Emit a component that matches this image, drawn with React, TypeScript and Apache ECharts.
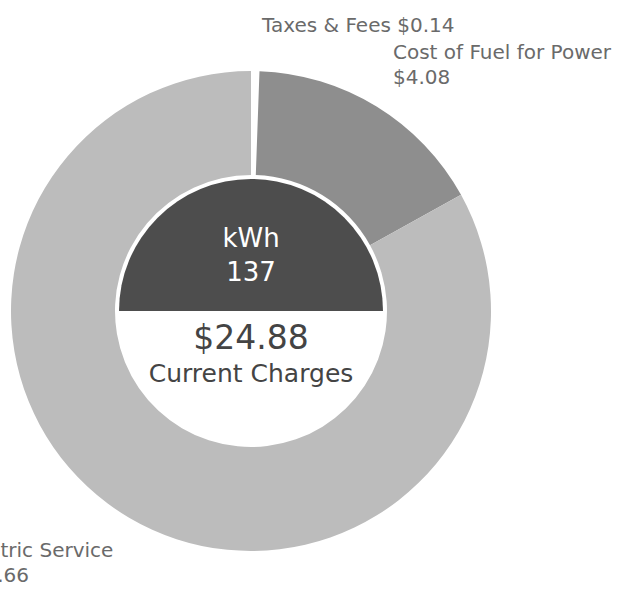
import React, { useEffect, useRef } from "react";
import * as echarts from "echarts";

const categories = ["Taxes & Fees", "Cost of Fuel for Power", "Electric Service"];
const amounts = [0.14, 4.08, 20.66];
const sliceColors = ["#ffffff", "#8e8e8e", "#bcbcbc"];
const usageLabel = "kWh";
const usageValue = 137;
const totalCharges = 24.88;
const totalLabel = "Current Charges";

// label anchor positions (left x, top y) per slice
const labelPos = [
  [262, 12],
  [393, 39],
  [-41, 537],
];

const CX = 251;
const CY = 311;
const FONT = "'DejaVu Sans', sans-serif";

export default function App() {
  const ref = useRef<HTMLDivElement>(null);
  useEffect(() => {
    if (!ref.current) return;
    const chart = echarts.init(ref.current, null, { renderer: "svg" });
    const fmt = (v: number) => "$" + v.toFixed(2);
    chart.setOption({
      animation: false,
      backgroundColor: "#ffffff",
      series: [
        {
          type: "pie",
          center: [CX, CY],
          radius: [136, 240],
          startAngle: 90,
          clockwise: true,
          avoidLabelOverlap: false,
          silent: true,
          itemStyle: { borderWidth: 0 },
          labelLine: { show: false },
          label: {
            show: true,
            position: "outside",
            color: "#6a6a6a",
            fontFamily: FONT,
            fontSize: 20,
            lineHeight: 25,
            formatter: (p: any) =>
              p.dataIndex === 0 ? `${p.name} ${fmt(p.value)}` : `${p.name}\n${fmt(p.value)}`,
          },
          labelLayout: (p: any) => ({
            x: labelPos[p.dataIndex][0],
            y: labelPos[p.dataIndex][1],
            align: "left",
            verticalAlign: "top",
          }),
          data: categories.map((c, i) => ({
            name: c,
            value: amounts[i],
            itemStyle: { color: sliceColors[i] },
          })),
        },
      ],
      graphic: [
        {
          type: "sector",
          shape: { cx: CX, cy: CY, r: 132, r0: 0, startAngle: Math.PI, endAngle: Math.PI * 2 },
          style: { fill: "#4d4d4d" },
        },
        {
          type: "text",
          x: CX,
          y: 238,
          style: {
            text: usageLabel,
            fill: "#ffffff",
            fontFamily: FONT,
            fontSize: 26,
            align: "center",
            verticalAlign: "middle",
          },
        },
        {
          type: "text",
          x: CX,
          y: 272,
          style: {
            text: String(usageValue),
            fill: "#ffffff",
            fontFamily: FONT,
            fontSize: 26,
            align: "center",
            verticalAlign: "middle",
          },
        },
        {
          type: "text",
          x: CX,
          y: 337,
          style: {
            text: fmt(totalCharges),
            fill: "#444444",
            fontFamily: FONT,
            fontSize: 33,
            align: "center",
            verticalAlign: "middle",
          },
        },
        {
          type: "text",
          x: CX,
          y: 373,
          style: {
            text: totalLabel,
            fill: "#444444",
            fontFamily: FONT,
            fontSize: 25,
            align: "center",
            verticalAlign: "middle",
          },
        },
      ],
    });
    return () => chart.dispose();
  }, []);
  return (
    <div
      ref={ref}
      style={{ position: "fixed", left: 0, top: 0, width: 639, height: 593 }}
    />
  );
}
